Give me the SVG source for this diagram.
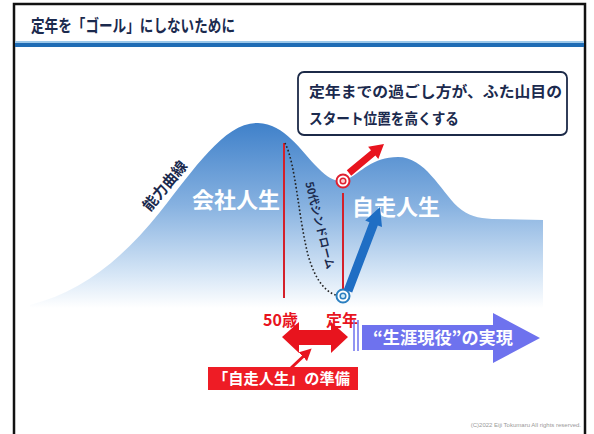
<svg xmlns="http://www.w3.org/2000/svg" width="594" height="434" viewBox="0 0 594 434">
<style>
.jp{font-family:"Noto Sans CJK JP","Noto Sans",sans-serif;font-weight:bold}
.navy{fill:#1b2a4e}
.white{fill:#ffffff}
.red{fill:#e8141e}
.redline{stroke:#d4202a;stroke-width:2;fill:none}
</style>
<defs>
<linearGradient id="mtn" x1="0" y1="120" x2="0" y2="308" gradientUnits="userSpaceOnUse">
<stop offset="0" stop-color="#3d7fc9"/>
<stop offset="0.45" stop-color="#86b1e0"/>
<stop offset="0.82" stop-color="#d6e6f6"/>
<stop offset="1" stop-color="#ffffff"/>
</linearGradient>
<marker id="ah" viewBox="0 0 10 10" refX="7" refY="5" markerWidth="4" markerHeight="4" orient="auto">
<path d="M0,0 L10,5 L0,10 z" fill="#e8141e"/>
</marker>
</defs>
<rect x="14" y="4" width="571" height="440" fill="#ffffff" stroke="#111111" stroke-width="2.5"/>
<g id="header">
<rect x="15" y="41" width="569" height="2" fill="#9cc8ea"/>
<rect x="15" y="43" width="569" height="4" fill="#1f6cb5"/>
<text class="jp navy" x="31" y="32" font-size="17" textLength="204" lengthAdjust="spacingAndGlyphs">定年を「ゴール」にしないために</text>
</g>
<g id="mountain">
<path d="M 30 305 C 80 292, 120 262, 160 212 C 195 168, 225 122, 258 123 C 285 124, 300 150, 318 168 C 330 180, 338 183, 346 180 C 362 172, 372 157, 398 157 C 425 157, 440 190, 458 207 C 468 216, 478 218, 492 219 L 543 220 L 543 310 L 30 310 Z" fill="url(#mtn)"/>
<text class="jp navy" font-size="15" x="164" y="185" text-anchor="middle" dominant-baseline="central" transform="rotate(-50 164 185)">能力曲線</text>
<text class="jp white" font-size="22" x="192" y="208">会社人生</text>
<text class="jp white" font-size="22" x="352" y="215">自走人生</text>
</g>
<g id="markers">
<line class="redline" x1="284" y1="143" x2="284" y2="298"/>
<line class="redline" x1="343" y1="193" x2="343" y2="290"/>
<path d="M 285 143 C 296 165, 298 215, 308 255 C 316 283, 328 295, 341 296" fill="none" stroke="#222" stroke-width="1.6" stroke-dasharray="1.6 2.2"/>
<text class="jp navy" font-size="11" x="321" y="225" text-anchor="middle" dominant-baseline="central" transform="rotate(76 321 225)">50代シンドローム</text>
<circle cx="343" cy="181" r="6.5" fill="#fff" stroke="#e02030" stroke-width="2"/>
<circle cx="343" cy="181" r="2.8" fill="#fbd0d0" stroke="#e02030" stroke-width="1.5"/>
<circle cx="343" cy="296" r="6.5" fill="#fff" stroke="#2a7fc0" stroke-width="2"/>
<circle cx="343" cy="296" r="2.8" fill="#cfeaf8" stroke="#2a7fc0" stroke-width="1.5"/>
</g>
<g id="callout">
<rect x="298" y="72" width="269" height="63" rx="6" fill="#ffffff" stroke="#1c2a48" stroke-width="1.8"/>
<text class="jp navy" font-size="15" x="309" y="97" textLength="253" lengthAdjust="spacingAndGlyphs">定年までの過ごし方が、ふた山目の</text>
<text class="jp navy" font-size="15" x="309" y="124" textLength="150" lengthAdjust="spacingAndGlyphs">スタート位置を高くする</text>
</g>
<g id="connectors">
<polygon points="346.8,170.3 371.0,150.2 368.1,146.7 384,144 378.3,159.1 375.4,155.6 351.2,175.7" fill="#e8141e"/>
<polygon points="343.8,289.4 369.4,222.2 365.2,220.6 380,207 382.0,227.0 377.8,225.4 352.2,292.6" fill="#1f6ec4"/>
<line x1="291" y1="368" x2="309" y2="351" stroke="#e8141e" stroke-width="3" marker-end="url(#ah)"/>
</g>
<g id="timeline">
<text class="jp red" font-size="16" x="263" y="326">50歳</text>
<text class="jp red" font-size="16" x="326" y="326">定年</text>
<polygon points="282,337 299,322 299,330 331,330 331,322 348,337 331,353 331,345 299,345 299,353" fill="#e8141e"/>
</g>
<g id="goal">
<line x1="354" y1="320" x2="354" y2="351" stroke="#6e72ee" stroke-width="1.5"/>
<line x1="358" y1="320" x2="358" y2="351" stroke="#6e72ee" stroke-width="1.5"/>
<polygon points="362,325 493,325 493,313 540,338 493,363 493,350 362,350" fill="#6e72ee"/>
<text class="jp white" font-size="17" x="373" y="344" textLength="140" lengthAdjust="spacingAndGlyphs">“生涯現役”の実現</text>
</g>
<g id="prep">
<rect x="208" y="367" width="150" height="23" fill="#ee1c25"/>
<text class="jp white" font-size="15" x="213" y="384" textLength="137" lengthAdjust="spacingAndGlyphs">「自走人生」の準備</text>
</g>
<text x="581" y="427" font-family="Liberation Sans, sans-serif" font-size="6" fill="#999" text-anchor="end">(C)2022 Eiji Tokumaru All rights reserved.</text>
</svg>
